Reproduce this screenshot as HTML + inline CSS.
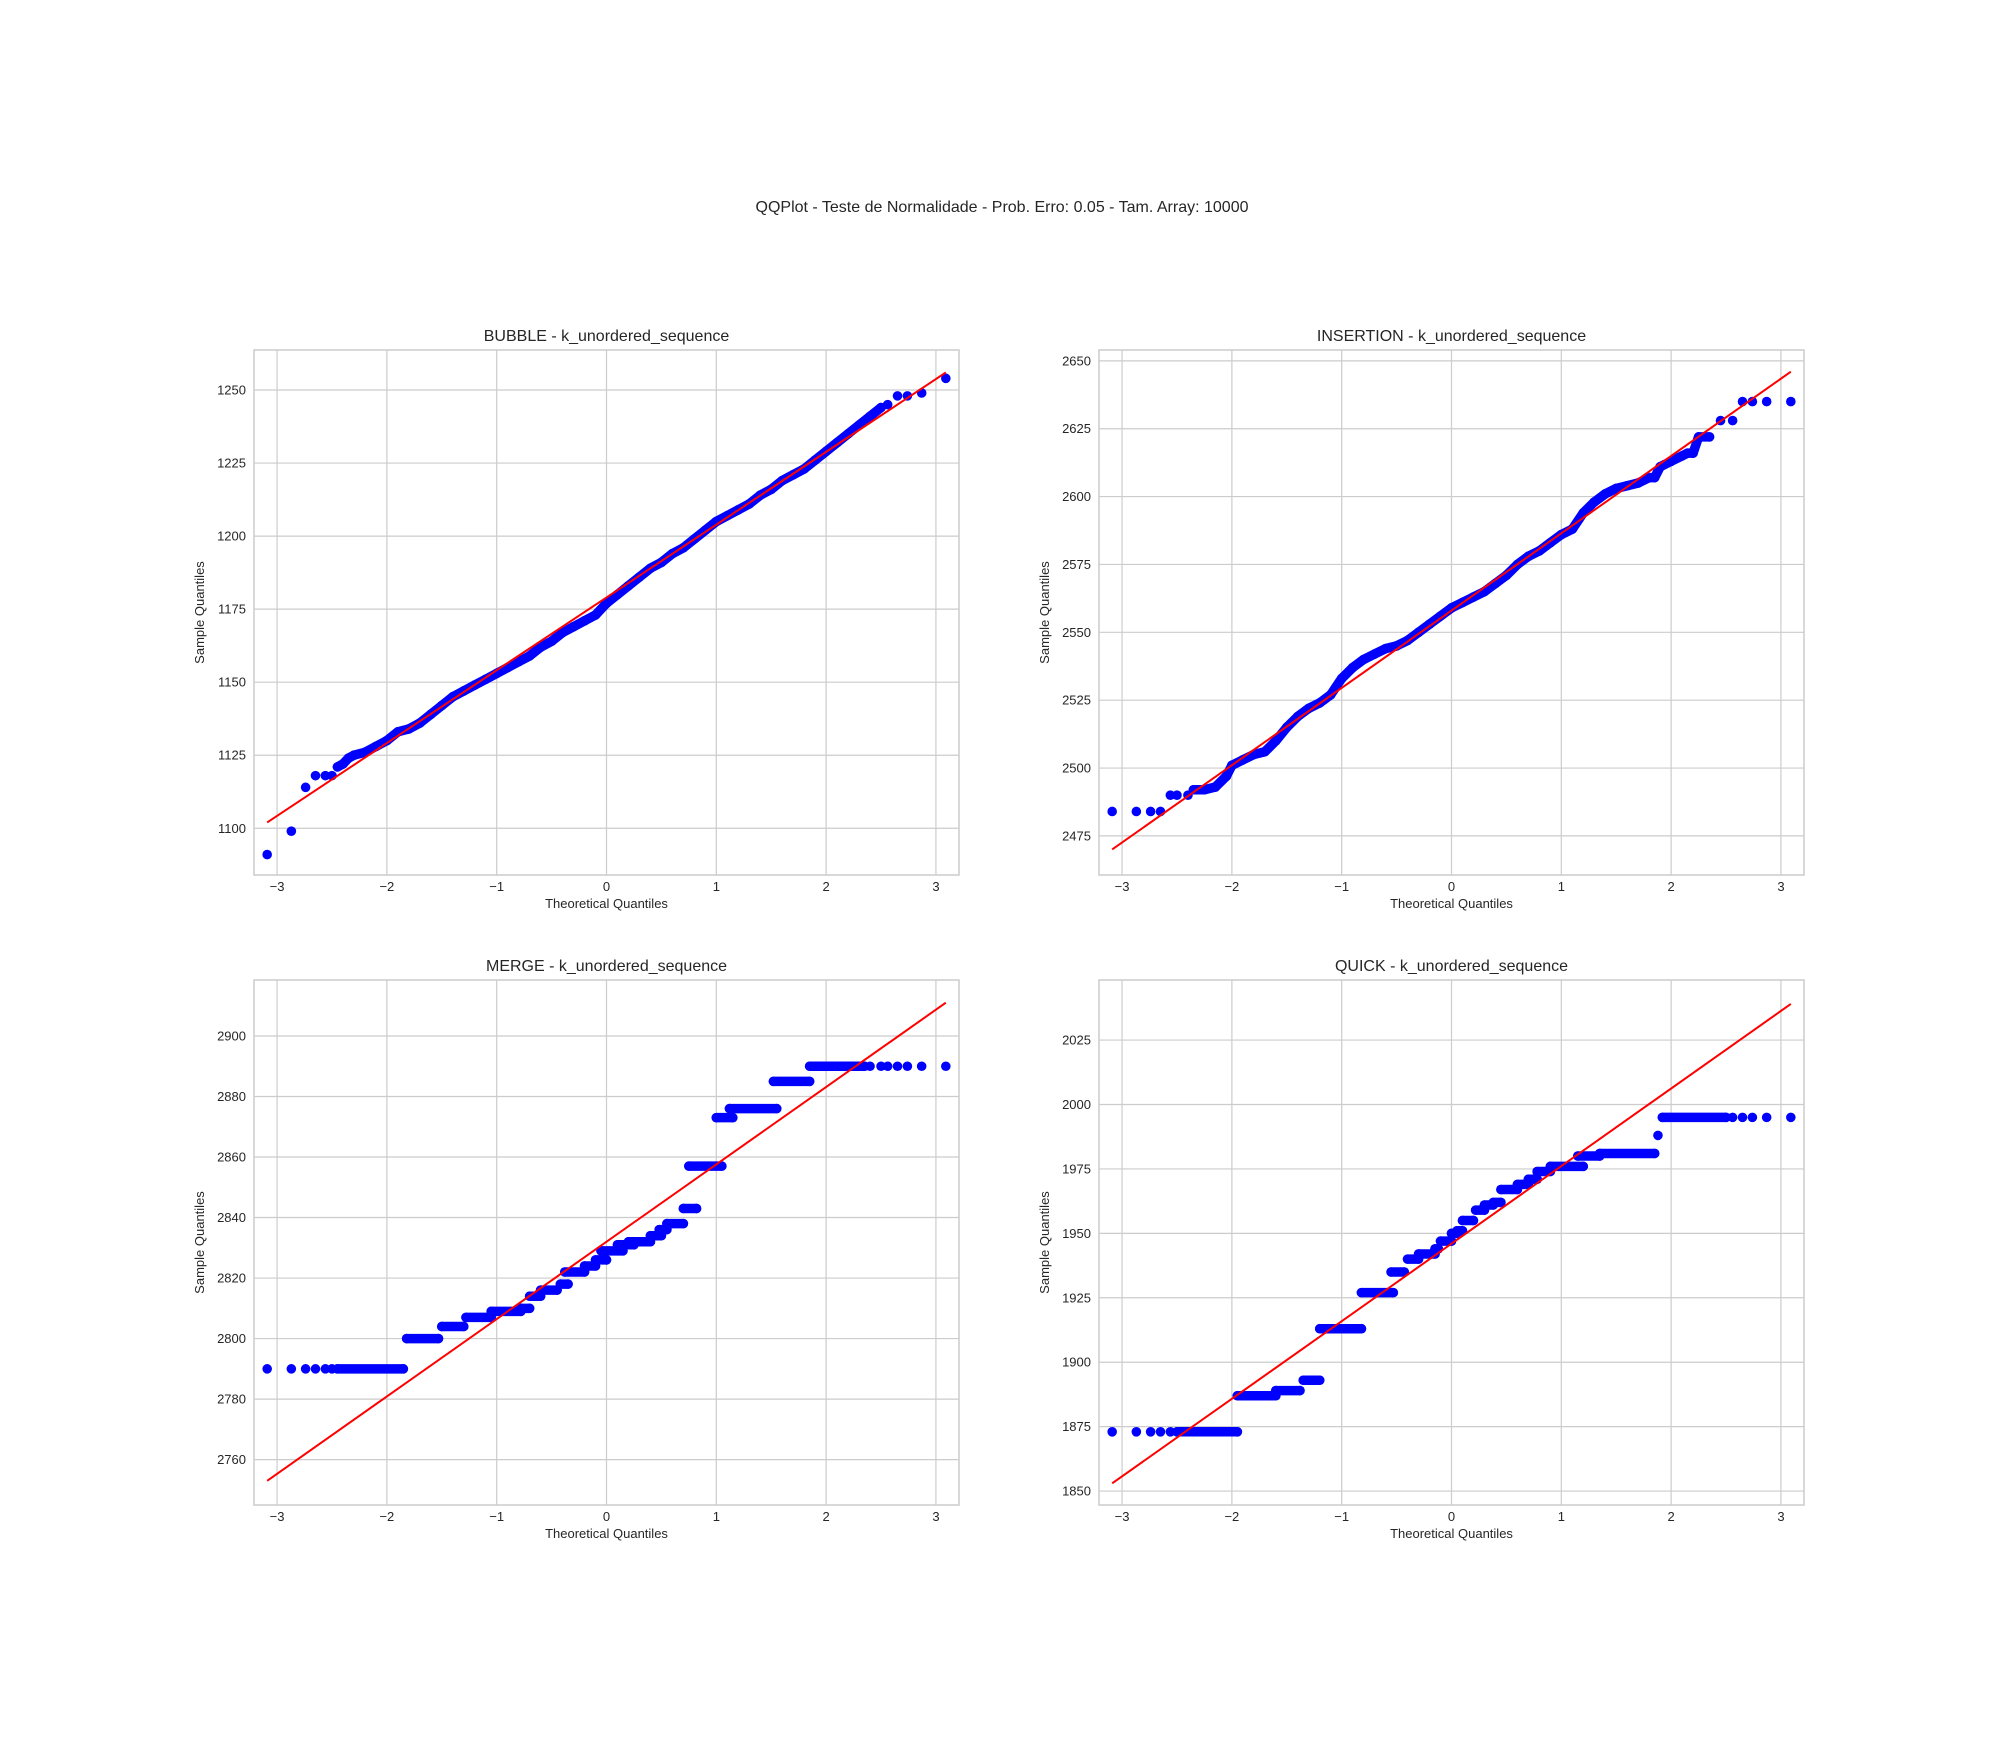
<!DOCTYPE html>
<html><head><meta charset="utf-8"><style>
html,body{margin:0;padding:0;background:#fff;}
svg text{font-family:"Liberation Sans","DejaVu Sans",sans-serif;fill:#262626;}
</style></head><body>
<svg id="fig" width="2003" height="1739" viewBox="0 0 2003 1739" xmlns="http://www.w3.org/2000/svg">
<rect width="2003" height="1739" fill="#fff"/>
<text x="1002" y="212" font-size="16" text-anchor="middle">QQPlot - Teste de Normalidade - Prob. Erro: 0.05 - Tam. Array: 10000</text>
</svg>
<script>
// ---- Data ----
const xTicks = [-3,-2,-1,0,1,2,3];
const xTickLabels = ["\u22123","\u22122","\u22121","0","1","2","3"];

const bubbleTitle = "BUBBLE - k_unordered_sequence";
const bubbleYTicks = [1100,1125,1150,1175,1200,1225,1250];
const bubbleSparseX = [-3.09,-2.87,-2.74,-2.65,-2.56,-2.5,2.56,2.65,2.74,2.87,3.09];
const bubbleSparseY = [1091,1099,1114,1118,1118,1118,1245,1248,1248,1249,1254];
const bubbleDenseX = [-2.45,-2.4,-2.35,-2.3,-2.2,-2.1,-2.0,-1.9,-1.8,-1.7,-1.6,-1.5,-1.4,-1.3,-1.2,-1.1,-1.0,-0.9,-0.8,-0.7,-0.6,-0.5,-0.4,-0.3,-0.2,-0.1,0,0.1,0.2,0.3,0.4,0.5,0.6,0.7,0.8,0.9,1.0,1.1,1.2,1.3,1.4,1.5,1.6,1.7,1.8,1.9,2.0,2.1,2.2,2.3,2.4,2.5];
const bubbleDenseY = [1121,1122,1124,1125,1126,1128,1130,1133,1134,1136,1139,1142,1145,1147,1149,1151,1153,1155,1157,1159,1162,1164,1167,1169,1171,1173,1177,1180,1183,1186,1189,1191,1194,1196,1199,1202,1205,1207,1209,1211,1214,1216,1219,1221,1223,1226,1229,1232,1235,1238,1241,1244];
const bubbleLineX = [-3.09,3.09];
const bubbleLineY = [1102,1256];

const insTitle = "INSERTION - k_unordered_sequence";
const insYTicks = [2475,2500,2525,2550,2575,2600,2625,2650];
const insSparseX = [-3.09,-2.87,-2.74,-2.65,-2.56,-2.5,-2.4,2.45,2.56,2.65,2.74,2.87,3.09];
const insSparseY = [2484,2484,2484,2484,2490,2490,2490,2628,2628,2635,2635,2635,2635];
const insDenseX = [-2.35,-2.25,-2.15,-2.05,-2.0,-1.9,-1.8,-1.7,-1.6,-1.5,-1.4,-1.3,-1.2,-1.1,-1.0,-0.9,-0.8,-0.7,-0.6,-0.5,-0.4,-0.3,-0.2,-0.1,0,0.1,0.2,0.3,0.4,0.5,0.6,0.7,0.8,0.9,1.0,1.1,1.2,1.3,1.4,1.5,1.6,1.7,1.8,1.85,1.9,2.0,2.1,2.15,2.2,2.25,2.35];
const insDenseY = [2492,2492,2493,2497,2501,2503,2505,2506,2510,2515,2519,2522,2524,2527,2533,2537,2540,2542,2544,2545,2547,2550,2553,2556,2559,2561,2563,2565,2568,2571,2575,2578,2580,2583,2586,2588,2594,2598,2601,2603,2604,2605,2607,2607,2611,2613,2615,2616,2616,2622,2622];
const insLineX = [-3.09,3.09];
const insLineY = [2470,2646];

const mergeTitle = "MERGE - k_unordered_sequence";
const mergeYTicks = [2760,2780,2800,2820,2840,2860,2880,2900];
const mergeSparseX = [-3.09,-2.87,-2.74,-2.65,-2.56,-2.5,2.4,2.5,2.56,2.65,2.74,2.87,3.09];
const mergeSparseY = [2790,2790,2790,2790,2790,2790,2890,2890,2890,2890,2890,2890,2890];
const mergeDenseX = [-2.45,-1.85,-1.82,-1.53,-1.5,-1.3,-1.28,-1.05,-1.05,-0.78,-0.78,-0.7,-0.7,-0.6,-0.6,-0.45,-0.42,-0.35,-0.38,-0.2,-0.2,-0.1,-0.1,0,-0.05,0.15,0.1,0.25,0.2,0.4,0.4,0.5,0.48,0.55,0.55,0.7,0.7,0.82,0.75,1.05,1.0,1.15,1.12,1.55,1.52,1.85,1.85,2.35];
const mergeDenseY = [2790,2790,2800,2800,2804,2804,2807,2807,2809,2809,2810,2810,2814,2814,2816,2816,2818,2818,2822,2822,2824,2824,2826,2826,2829,2829,2831,2831,2832,2832,2834,2834,2836,2836,2838,2838,2843,2843,2857,2857,2873,2873,2876,2876,2885,2885,2890,2890];
const mergeLineX = [-3.09,3.09];
const mergeLineY = [2753,2911];

const quickTitle = "QUICK - k_unordered_sequence";
const quickYTicks = [1850,1875,1900,1925,1950,1975,2000,2025];
const quickSparseX = [-3.09,-2.87,-2.74,-2.65,-2.56,1.88,2.56,2.65,2.74,2.87,3.09];
const quickSparseY = [1873,1873,1873,1873,1873,1988,1995,1995,1995,1995,1995];
const quickDenseX = [-2.5,-1.95,-1.95,-1.6,-1.6,-1.38,-1.35,-1.2,-1.2,-0.82,-0.82,-0.53,-0.55,-0.43,-0.4,-0.3,-0.3,-0.15,-0.15,-0.12,-0.1,0,0,0.05,0.05,0.1,0.1,0.2,0.22,0.3,0.3,0.38,0.38,0.45,0.45,0.6,0.6,0.7,0.7,0.78,0.78,0.9,0.9,1.2,1.15,1.35,1.35,1.85,1.92,2.5];
const quickDenseY = [1873,1873,1887,1887,1889,1889,1893,1893,1913,1913,1927,1927,1935,1935,1940,1940,1942,1942,1944,1944,1947,1947,1950,1950,1951,1951,1955,1955,1959,1959,1961,1961,1962,1962,1967,1967,1969,1969,1971,1971,1974,1974,1976,1976,1980,1980,1981,1981,1995,1995];
const quickLineX = [-3.09,3.09];
const quickLineY = [1853,2039];

// ---- Rendering ----
const NS = "http://www.w3.org/2000/svg";
const svg = document.getElementById('fig');
function mk(tag, attrs, parent){
  const e = document.createElementNS(NS, tag);
  for (const k in attrs) e.setAttribute(k, attrs[k]);
  (parent||svg).appendChild(e);
  return e;
}
const panels = [
  {key:'bubble', title:bubbleTitle, L:254, T:350, W:705, H:525, xmin:-3.21, xmax:3.21, ymin:1084, ymax:1263.7, yt:bubbleYTicks, sx:bubbleSparseX, sy:bubbleSparseY, dx:bubbleDenseX, dy:bubbleDenseY, step:false, lx:bubbleLineX, ly:bubbleLineY},
  {key:'insertion', title:insTitle, L:1099, T:350, W:705, H:525, xmin:-3.21, xmax:3.21, ymin:2460.6, ymax:2654, yt:insYTicks, sx:insSparseX, sy:insSparseY, dx:insDenseX, dy:insDenseY, step:false, lx:insLineX, ly:insLineY},
  {key:'merge', title:mergeTitle, L:254, T:980, W:705, H:525, xmin:-3.21, xmax:3.21, ymin:2745, ymax:2918.5, yt:mergeYTicks, sx:mergeSparseX, sy:mergeSparseY, dx:mergeDenseX, dy:mergeDenseY, step:true, lx:mergeLineX, ly:mergeLineY},
  {key:'quick', title:quickTitle, L:1099, T:980, W:705, H:525, xmin:-3.21, xmax:3.21, ymin:1844.6, ymax:2048.3, yt:quickYTicks, sx:quickSparseX, sy:quickSparseY, dx:quickDenseX, dy:quickDenseY, step:true, lx:quickLineX, ly:quickLineY}
];
panels.forEach(p=>{
  const X = v => p.L + (v - p.xmin)/(p.xmax - p.xmin)*p.W;
  const Y = v => p.T + p.H - (v - p.ymin)/(p.ymax - p.ymin)*p.H;
  const g = mk('g', {});
  
  
  const clipId = 'clip-' + p.key;
  const cp = mk('clipPath', {id:clipId}, g);
  mk('rect', {x:p.L, y:p.T, width:p.W, height:p.H}, cp);
  xTicks.forEach((t,i)=>{
    const l = mk('line', {x1:X(t), x2:X(t), y1:p.T, y2:p.T+p.H, stroke:'#cccccc', 'stroke-width':1.2}, g);
    
    
    const tx = mk('text', {x:X(t), y:p.T+p.H+16, 'font-size':13, 'text-anchor':'middle'}, g);
    
    
    tx.textContent = xTickLabels[i];
  });
  p.yt.forEach(t=>{
    const l = mk('line', {x1:p.L, x2:p.L+p.W, y1:Y(t), y2:Y(t), stroke:'#cccccc', 'stroke-width':1.2}, g);
    
    
    const tx = mk('text', {x:p.L-8, y:Y(t)+4.5, 'font-size':13, 'text-anchor':'end'}, g);
    
    
    tx.textContent = String(t);
  });
  const fr = mk('rect', {x:p.L, y:p.T, width:p.W, height:p.H, fill:'none', stroke:'#cccccc', 'stroke-width':1.5}, g);
  
  
  const pts = mk('g', {'clip-path':'url(#'+clipId+')'}, g);
  
  
  for (let i=0;i<p.dx.length;i++){
    if (i>0 && (!p.step || p.dy[i]===p.dy[i-1])){
      const s = mk('line', {x1:X(p.dx[i-1]), y1:Y(p.dy[i-1]), x2:X(p.dx[i]), y2:Y(p.dy[i]), stroke:'#0000ff', 'stroke-width':9.5, 'stroke-linecap':'round'}, pts);
      
      
    }
    const c = mk('circle', {cx:X(p.dx[i]), cy:Y(p.dy[i]), r:4.8, fill:'#0000ff'}, pts);
    
    
  }
  for (let i=0;i<p.sx.length;i++){
    const c = mk('circle', {cx:X(p.sx[i]), cy:Y(p.sy[i]), r:4.8, fill:'#0000ff'}, pts);
    
    
  }
  const rl = mk('line', {x1:X(p.lx[0]), y1:Y(p.ly[0]), x2:X(p.lx[1]), y2:Y(p.ly[1]), stroke:'#ff0000', 'stroke-width':2}, g);
  
  
  const tt = mk('text', {x:p.L+p.W/2, y:p.T-9, 'font-size':16, 'text-anchor':'middle'}, g);
  
  
  tt.textContent = p.title;
  const xl = mk('text', {x:p.L+p.W/2, y:p.T+p.H+33, 'font-size':13, 'text-anchor':'middle'}, g);
  
  
  xl.textContent = 'Theoretical Quantiles';
  const yx = p.L-50, yy = p.T+p.H/2;
  const yl = mk('text', {x:yx, y:yy, 'font-size':13, 'text-anchor':'middle', transform:'rotate(-90 '+yx+' '+yy+')'}, g);
  
  
  yl.textContent = 'Sample Quantiles';
});
</script>
</body></html>
